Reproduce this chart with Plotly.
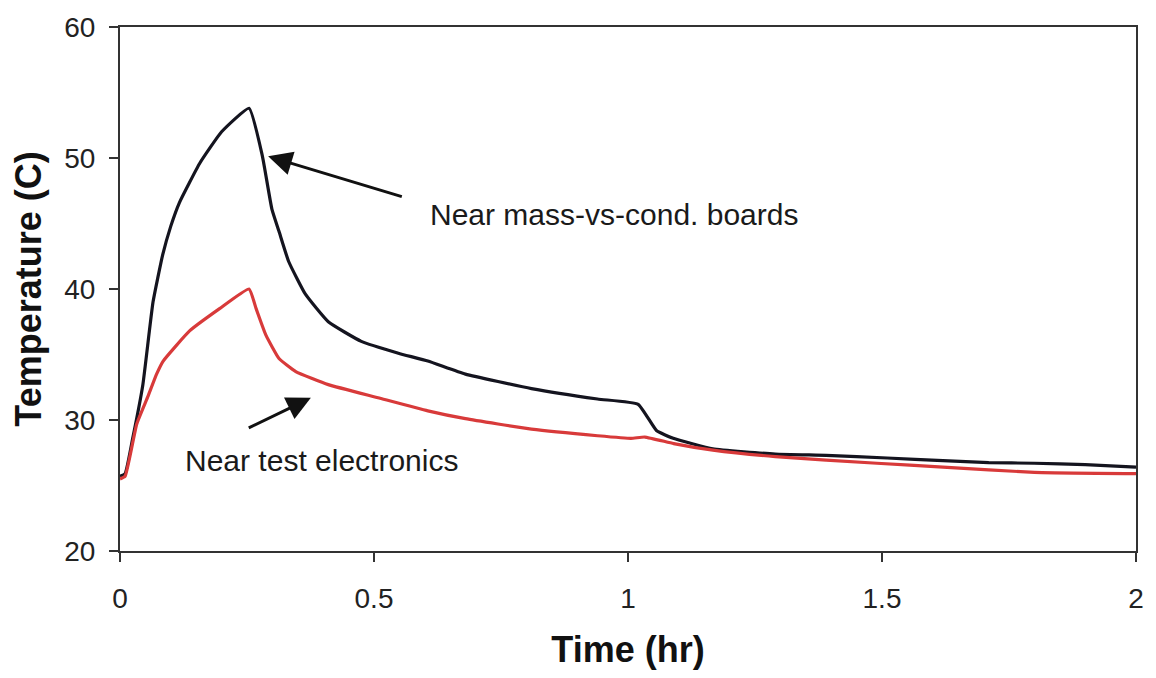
import plotly.graph_objects as go

# Black series: near mass-vs-cond. boards
t_boards = [0, 0.01, 0.025, 0.045, 0.065, 0.084, 0.1, 0.117, 0.157, 0.2, 0.254,
            0.28, 0.299, 0.313, 0.332, 0.365, 0.41, 0.475, 0.548, 0.606, 0.68,
            0.81, 0.94, 1.02, 1.056, 1.089, 1.167, 1.29, 1.39, 1.51, 1.62, 1.71,
            1.80, 1.9, 2.0]
v_boards = [25.7, 25.9, 28.6, 32.7, 39.0, 42.6, 44.8, 46.6, 49.6, 52.0, 53.8,
            50.2, 46.1, 44.4, 42.1, 39.6, 37.5, 36.0, 35.1, 34.5, 33.5,
            32.4, 31.6, 31.2, 29.2, 28.6, 27.8, 27.4, 27.3, 27.1, 26.9, 26.75,
            26.7, 26.6, 26.4]

# Red series: near test electronics
t_elec = [0, 0.01, 0.033, 0.055, 0.072, 0.085, 0.137, 0.196, 0.254, 0.268,
          0.287, 0.313, 0.346, 0.41, 0.508, 0.606, 0.68, 0.81, 0.94, 1.006,
          1.033, 1.09, 1.167, 1.29, 1.49, 1.62, 1.80, 2.0]
v_elec = [25.5, 25.7, 29.7, 31.8, 33.5, 34.5, 36.8, 38.5, 40.0, 38.5,
          36.5, 34.7, 33.7, 32.7, 31.7, 30.7, 30.1, 29.3, 28.8, 28.6,
          28.7, 28.2, 27.7, 27.2, 26.7, 26.4, 26.0, 25.9]

x_ticks = [0, 0.5, 1, 1.5, 2]
x_tick_labels = ["0", "0.5", "1", "1.5", "2"]
y_ticks = [20, 30, 40, 50, 60]

FONT = "Liberation Sans, Arial, sans-serif"

fig = go.Figure()
fig.add_trace(go.Scatter(x=t_boards, y=v_boards, mode="lines",
                         line=dict(color="#14141f", width=3.2, shape="spline", smoothing=0.4),
                         name="Near mass-vs-cond. boards"))
fig.add_trace(go.Scatter(x=t_elec, y=v_elec, mode="lines",
                         line=dict(color="#d83a3a", width=3.2, shape="spline", smoothing=0.4),
                         name="Near test electronics"))

axis_common = dict(showgrid=False, zeroline=False, showline=True, linecolor="#333333",
                   linewidth=2, mirror=True, ticks="outside", ticklen=9, tickwidth=1.5,
                   tickcolor="#333333", tickfont=dict(family=FONT, size=28, color="#222222"))

fig.update_xaxes(range=[0, 2], tickvals=x_ticks, ticktext=x_tick_labels,
                 title=dict(text="<b>Time (hr)</b>", font=dict(family=FONT, size=36, color="#111111"),
                            standoff=24),
                 ticklabelstandoff=12, **axis_common)
fig.update_yaxes(range=[20, 60], tickvals=y_ticks,
                 title=dict(text="<b>Temperature (C)</b>", font=dict(family=FONT, size=36, color="#111111"),
                            standoff=12),
                 ticklabelstandoff=8, **axis_common)

fig.add_annotation(x=0.2916, y=50.13, ax=0.5577, ay=47.02, axref="x", ayref="y",
                   xref="x", yref="y", text="", showarrow=True, arrowhead=2,
                   arrowsize=1.6, arrowwidth=3, arrowcolor="#111111")
fig.add_annotation(x=0.3757, y=31.69, ax=0.2505, ay=29.34, axref="x", ayref="y",
                   xref="x", yref="y", text="", showarrow=True, arrowhead=2,
                   arrowsize=1.6, arrowwidth=3, arrowcolor="#111111")
fig.add_annotation(x=0.9726, y=45.65, xref="x", yref="y", text="Near mass-vs-cond. boards",
                   showarrow=False, font=dict(family=FONT, size=30, color="#1a1a1a"))
fig.add_annotation(x=0.397, y=26.9, xref="x", yref="y", text="Near test electronics",
                   showarrow=False, font=dict(family=FONT, size=30, color="#1a1a1a"))

fig.update_layout(width=1156, height=678, showlegend=False,
                  margin=dict(l=120, r=14, t=24, b=127),
                  paper_bgcolor="white", plot_bgcolor="white")

fig.write_html("out.html")
